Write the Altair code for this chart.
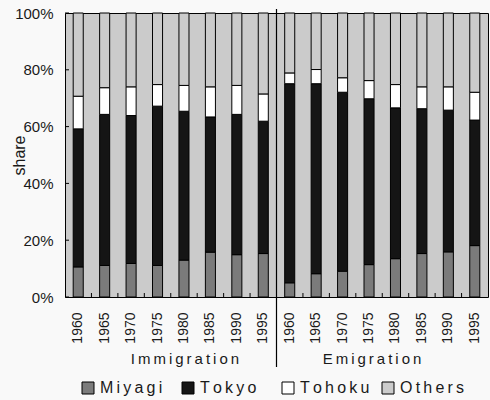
import altair as alt
import pandas as pd

# Migration shares (%) by origin/destination, 1960-1995
years = [1960, 1965, 1970, 1975, 1980, 1985, 1990, 1995]
categories = ["Miyagi", "Tokyo", "Tohoku", "Others"]
groups = ["Immigration", "Emigration"]

imm_miyagi = [10.6, 11.1, 11.8, 11.1, 13.0, 15.8, 14.9, 15.3]
imm_tokyo = [48.6, 53.2, 52.1, 56.1, 52.4, 47.6, 49.4, 46.6]
imm_tohoku = [11.5, 9.4, 10.1, 7.6, 9.1, 10.6, 10.2, 9.6]
imm_others = [29.3, 26.3, 26.0, 25.2, 25.5, 26.0, 25.5, 28.5]

emi_miyagi = [5.0, 8.2, 9.1, 11.4, 13.5, 15.3, 15.9, 18.1]
emi_tokyo = [70.1, 66.9, 63.0, 58.4, 53.1, 51.0, 49.9, 44.2]
emi_tohoku = [3.8, 5.0, 5.1, 6.4, 8.2, 7.7, 8.2, 9.8]
emi_others = [21.1, 19.9, 22.8, 23.8, 25.2, 26.0, 26.0, 27.9]

y_ticks = [0, 20, 40, 60, 80, 100]

fills = ["#7b7b7b", "#151515", "#ffffff", "#cbcbcb"]
FONT_N = "Liberation Sans Narrow, Liberation Sans, Arial"
FONT = "Liberation Sans, Arial"

series = {
    "Immigration": [imm_miyagi, imm_tokyo, imm_tohoku, imm_others],
    "Emigration": [emi_miyagi, emi_tokyo, emi_tohoku, emi_others],
}

rows = []
for g in groups:
    for ci, cat in enumerate(categories):
        for yi, yr in enumerate(years):
            rows.append({"key": f"{g[0]}{yr}", "cat": cat, "ord": ci,
                         "share": series[g][ci][yi]})
df = pd.DataFrame(rows)

keys = [f"{g[0]}{yr}" for g in groups for yr in years]

W, H = 423, 284
step = W / len(keys)

xscale = alt.Scale(domain=keys, paddingInner=0.62, paddingOuter=0.31)
yscale = alt.Scale(domain=[0, 100], nice=False)

bars = alt.Chart(df).mark_bar(stroke="black", strokeWidth=1).encode(
    x=alt.X("key:N", scale=xscale, sort=keys,
            axis=alt.Axis(title=None, labelExpr="slice(datum.value, 1)",
                          labelAngle=270, ticks=False, domain=False,
                          labelPadding=15, labelFont=FONT_N, labelFontSize=14,
                          labelColor="#1a1a1a", labelBaseline="middle",
                          labelAlign="right")),
    y=alt.Y("share:Q", stack="zero", scale=yscale,
            axis=alt.Axis(values=y_ticks, labelExpr="datum.value + '%'",
                          title="share", ticks=False, domain=False, grid=False,
                          labelPadding=12, labelFont=FONT_N, labelFontSize=15,
                          labelColor="#1a1a1a", titleFont=FONT,
                          titleFontSize=16, titleFontWeight="normal",
                          titleColor="#1a1a1a", titleAngle=270, titleX=-41,
                          titleY=142, titleAlign="center",
                          titleBaseline="alphabetic")),
    color=alt.Color("cat:N", scale=alt.Scale(domain=categories, range=fills),
                    legend=alt.Legend(title=None, orient="none", legendX=15,
                                      legendY=367, direction="horizontal",
                                      columns=4, gridAlign="all",
                                      columnPadding=10, symbolType="square",
                                      symbolSize=144, symbolStrokeColor="black",
                                      symbolStrokeWidth=1, labelFont=FONT,
                                      labelFontSize=16, labelColor="#1a1a1a",
                                      labelOffset=4, padding=0,
                                      labelExpr="join(split(datum.label, ''), '\u2009')")),
    order=alt.Order("ord:Q"),
)

# inward tick marks on the left edge
ytick = alt.Chart(pd.DataFrame({"v": y_ticks})).mark_rule(
    color="black", strokeWidth=1).encode(
    y=alt.Y("v:Q", scale=yscale), x=alt.value(0), x2=alt.value(4))

# inward tick marks on the bottom edge, between bars of a group
inner_keys = [k for k in keys if not k.endswith(str(years[-1]))]
xtick = alt.Chart(pd.DataFrame({"key": inner_keys})).mark_rule(
    color="black", strokeWidth=1, xOffset=step / 2).encode(
    x=alt.X("key:N", scale=xscale, sort=keys),
    y=alt.value(H), y2=alt.value(H - 4))

# divider between the two groups
divider = alt.Chart(pd.DataFrame({"key": [keys[len(years)]]})).mark_rule(
    color="black", strokeWidth=1.2, xOffset=-step / 2).encode(
    x=alt.X("key:N", scale=xscale, sort=keys),
    y=alt.value(-4), y2=alt.value(354))

# group captions
cap_df = pd.DataFrame({"key": ["I1980", "E1975"], "label": groups,
                       "shift": [6, 8]})
captions = alt.Chart(cap_df).transform_calculate(
    spaced="join(split(datum.label, ''), '\u2009')"
).mark_text(font=FONT, fontSize=15, color="#1a1a1a",
            baseline="alphabetic", align="center").encode(
    x=alt.X("key:N", scale=xscale, sort=keys),
    xOffset=alt.XOffset("shift:Q", scale=None),
    y=alt.value(351), text="spaced:N")

chart = alt.layer(bars, ytick, xtick, divider, captions).properties(
    width=W, height=H,
    autosize=alt.AutoSizeParams(type="none"),
    padding={"left": 65, "top": 13, "right": 2, "bottom": 103},
    background="#f9f9f9",
).configure_view(fill="#cbcbcb", stroke="black", strokeWidth=1)

chart.save("out.html", embed_options={"renderer": "svg", "actions": False})
